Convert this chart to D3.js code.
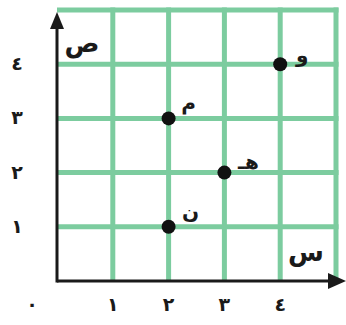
<!DOCTYPE html>
<html><head><meta charset="utf-8">
<script src="https://cdn.jsdelivr.net/npm/d3@7"></script>
<style>body{margin:0;background:#fff}</style>
</head><body>
<svg id="c" width="346" height="325"></svg>
<script>
const xTicks = [1,2,3,4];
const yTicks = [1,2,3,4];
const tickLabels = ["١","٢","٣","٤"];
const originLabel = "٠";
const pointNames = ["و","م","هـ","ن"];
const pointX = [4,2,3,2];
const pointY = [4,3,2,1];
const axisNames = ["س","ص"];

const svg = d3.select("#c");
const x = d3.scaleLinear().domain([0,5]).range([57,336]);
const y = d3.scaleLinear().domain([0,5]).range([281,10]);
const green = "#7ccc9f";
const font = "DejaVu Sans";

// grid
const gridVals = [1,2,3,4,5];
svg.selectAll(".vg").data(gridVals).enter().append("line")
  .attr("x1",d=>x(d)).attr("x2",d=>x(d)).attr("y1",y(0)).attr("y2",y(5)-2.5)
  .attr("stroke",green).attr("stroke-width",5);
svg.selectAll(".hg").data(gridVals).enter().append("line")
  .attr("x1",x(0)).attr("x2",x(5)+2.5).attr("y1",d=>y(d)).attr("y2",d=>y(d))
  .attr("stroke",green).attr("stroke-width",5);

// axes
svg.append("line").attr("x1",x(0)).attr("x2",x(5)-4).attr("y1",y(0)).attr("y2",y(0))
  .attr("stroke","#1a1a1a").attr("stroke-width",3);
svg.append("path").attr("d",`M${x(5)-8},${y(0)-8}L${x(5)+10},${y(0)}L${x(5)-8},${y(0)+8}Z`).attr("fill","#1a1a1a");
svg.append("line").attr("x1",x(0)).attr("x2",x(0)).attr("y1",y(0)+1.5).attr("y2",y(5)+16)
  .attr("stroke","#1a1a1a").attr("stroke-width",3);
svg.append("path").attr("d",`M${x(0)-7},${y(5)+19}L${x(0)},${y(5)+2}L${x(0)+7},${y(5)+19}Z`).attr("fill","#1a1a1a");

// tick labels
svg.selectAll(".xt").data(xTicks).enter().append("text")
  .attr("x",d=>x(d)).attr("y",y(0)+30).attr("text-anchor","middle")
  .attr("font-family",font).attr("font-size",19).attr("font-weight","bold").attr("fill","#1a1a1a")
  .text((d,i)=>tickLabels[i]);
svg.selectAll(".yt").data(yTicks).enter().append("text")
  .attr("x",17).attr("y",d=>y(d)+6).attr("text-anchor","middle")
  .attr("font-family",font).attr("font-size",19).attr("font-weight","bold").attr("fill","#1a1a1a")
  .text((d,i)=>tickLabels[i]);
svg.append("text").attr("x",32).attr("y",y(0)+30).attr("text-anchor","middle")
  .attr("font-family",font).attr("font-size",19).attr("font-weight","bold").attr("fill","#1a1a1a")
  .text(originLabel);

// axis names
svg.append("text").attr("x",x(5)-30).attr("y",y(0)-20).attr("text-anchor","middle")
  .attr("font-family",font).attr("font-size",26).attr("font-weight","bold").attr("fill","#1a1a1a")
  .text(axisNames[0]);
svg.append("text").attr("x",x(0)+25).attr("y",y(4)-12).attr("text-anchor","middle")
  .attr("font-family",font).attr("font-size",26).attr("font-weight","bold").attr("fill","#1a1a1a")
  .text(axisNames[1]);

// points
const pts = pointX.map((v,i)=>({x:v,y:pointY[i],n:pointNames[i]}));
svg.selectAll(".pt").data(pts).enter().append("circle")
  .attr("cx",d=>x(d.x)).attr("cy",d=>y(d.y)).attr("r",7).attr("fill","#111");
const off = [[22,-2],[20,-8],[24,-4],[22,-8]];
svg.selectAll(".pl").data(pts).enter().append("text")
  .attr("x",(d,i)=>x(d.x)+off[i][0]).attr("y",(d,i)=>y(d.y)+off[i][1])
  .attr("text-anchor","middle")
  .attr("font-family",font).attr("font-size",20).attr("font-weight","bold").attr("fill","#1a1a1a")
  .text(d=>d.n);
</script>
</body></html>
